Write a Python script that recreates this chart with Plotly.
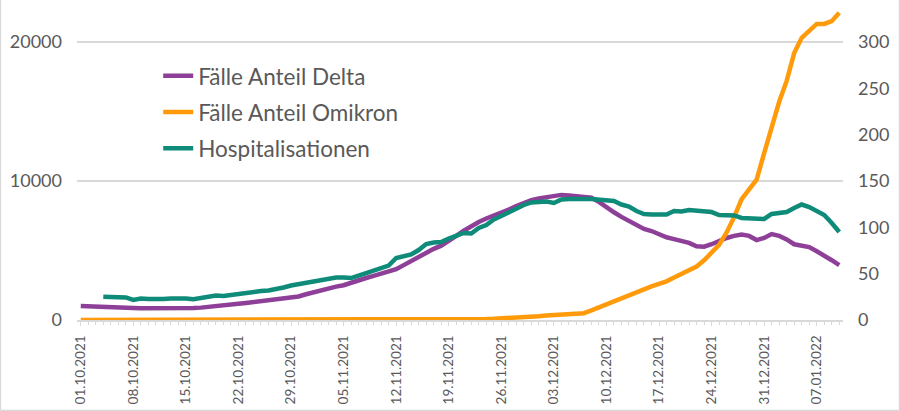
import pandas as pd
import plotly.graph_objects as go

dates = pd.date_range("2021-10-01", periods=102, freq="D")

delta = [
    1010, 980, 950, 930, 910, 890, 870, 860, 850, 840,
    830, 820, 820, 830, 840, 860, 890, 930, 980, 1040,
    1110, 1170, 1230, 1290, 1350, 1420, 1490, 1550, 1610, 1690,
    1850, 2000, 2150, 2290, 2400, 2500, 2700, 2870, 3020, 3170,
    3350, 3520, 3650, 3950, 4250, 4550, 4850, 5120, 5350, 5750,
    6050, 6420, 6760, 7050, 7300, 7500, 7700, 7950, 8200, 8430,
    8630, 8750, 8850, 8950, 9000, 8950, 8920, 8900, 8800, 8500,
    8100, 7750, 7420, 7130, 6850, 6550, 6400, 6150, 5950, 5820,
    5720, 5550, 5300, 5270, 5450, 5700, 5900, 6050, 6150, 6050,
    5750, 5900, 6180, 6050, 5800, 5450, 5350, 5250, 4950, 4650,
    4300, 3950,
]

omikron = [
    0, 0, 0, 0, 0, 0, 0, 0, 0, 0,
    0, 0, 0, 0, 0, 0, 0, 0, 0, 0,
    0, 0, 0, 0, 0, 0, 0, 0, 0, 0,
    0, 0, 0, 0, 0, 0, 0, 0, 0, 0,
    0, 0, 0, 0, 0, 0, 0, 0, 10, 20,
    30, 40, 50, 60, 75, 90, 110, 140, 170, 200,
    230, 270, 320, 360, 400, 430, 460, 490, 690, 910,
    1150, 1380, 1600, 1820, 2040, 2230, 2420, 2600, 2780, 3050,
    3300, 3600, 3850, 4300, 4800, 5400, 6300, 7400, 8700, 9400,
    10100, 12000, 14000, 15700, 17200, 19200, 20300, 20800, 21300, 21300,
    21500, 22100,
]

hosp = [
    None, None, None, 25.1, 25.0, 25.4, 24.3, 21.6, 23.2, 22.7,
    22.1, 22.7, 23.2, 23.4, 23.2, 22.3, 23.7, 25.4, 26.4, 25.9,
    27.0, 29.1, 30.2, 30.8, 31.3, 31.8, 32.9, 35.1, 37.2, 38.8,
    40.5, 42.1, 43.7, 44.8, 45.9, 45.9, 45.3, 48.0, 50.7, 53.4,
    56.1, 58.8, 66.9, 68.5, 70.7, 75.5, 82.0, 83.6, 84.2, 87.9,
    91.2, 93.9, 93.3, 99.3, 102.5, 108.5, 112.2, 116.5, 119.8, 124.1,
    126.8, 127.9, 127.9, 126.3, 130.0, 130.6, 130.0, 130.6, 130.6, 129.5,
    129.5, 128.4, 124.6, 122.5, 117.6, 114.4, 113.8, 114.4, 113.8, 117.6,
    117.1, 118.7, 117.6, 117.1, 116.5, 113.3, 113.3, 112.8, 110.1, 109.5,
    109.5, 109.0, 114.4, 115.5, 116.5, 120.9, 124.6, 121.9, 117.6, 113.3,
    104.7, 95.0,
]

left_ticks = [0, 10000, 20000]
right_ticks = [0, 50, 100, 150, 200, 250, 300]

GREY = "#595959"
GRID = "#d9d9d9"

fig = go.Figure()
fig.add_trace(go.Scatter(x=dates, y=delta, name="Fälle Anteil Delta", mode="lines",
                         line=dict(color="#8e3f98", width=4.5), legendgroup="a"))
fig.add_trace(go.Scatter(x=dates, y=omikron, name="Fälle Anteil Omikron", mode="lines",
                         line=dict(color="#ff9a0a", width=4.5), legendgroup="b"))
fig.add_trace(go.Scatter(x=dates, y=hosp, name="Hospitalisationen", mode="lines",
                         line=dict(color="#0f8b7a", width=4.5), yaxis="y2", legendgroup="c"))

fig.update_layout(
    width=900, height=411,
    margin=dict(l=77, r=57, t=0, b=91),
    paper_bgcolor="white", plot_bgcolor="white",
    font=dict(family="Lato", color=GREY),
    showlegend=True,
    legend=dict(x=0.106, y=0.829, xanchor="left", yanchor="top",
                font=dict(size=22.5, color=GREY), bgcolor="rgba(0,0,0,0)",
                tracegroupgap=4),
    xaxis=dict(
        type="date",
        range=["2021-09-30 12:00", "2022-01-10 12:00"],
        tick0="2021-10-01", dtick=7 * 86400000, tickformat="%d.%m.%Y",
        tickangle=-90, tickfont=dict(size=13.5, color=GREY),
        showgrid=False, showline=True, linecolor=GRID, linewidth=2,
        ticks="outside", ticklen=4, tickcolor=GRID, tickwidth=1,
        minor=dict(ticks="outside", dtick=86400000, ticklen=3, tickcolor=GRID),
        ticklabelstandoff=4,
    ),
    yaxis=dict(
        range=[0, 23022], tickvals=left_ticks, ticktext=[str(v) for v in left_ticks],
        showgrid=True, gridcolor=GRID, gridwidth=2, zeroline=False,
        tickfont=dict(size=18, color=GREY), ticklabelstandoff=14,
    ),
    yaxis2=dict(
        range=[0, 345.3], tickvals=right_ticks, overlaying="y", side="right",
        showgrid=False, zeroline=False,
        tickfont=dict(size=18, color=GREY), ticklabelstandoff=14,
    ),
    shapes=[dict(type="path", xref="paper", yref="paper",
                 path="M -0.1 -0.2828 L -0.1 1 M 1.0738 1 L 1.0738 -0.2828 L -0.1 -0.2828",
                 line=dict(color=GRID, width=1.5))],
)

fig.write_html("out.html", config={"displayModeBar": False},
               post_script="document.body.style.margin='0';")
